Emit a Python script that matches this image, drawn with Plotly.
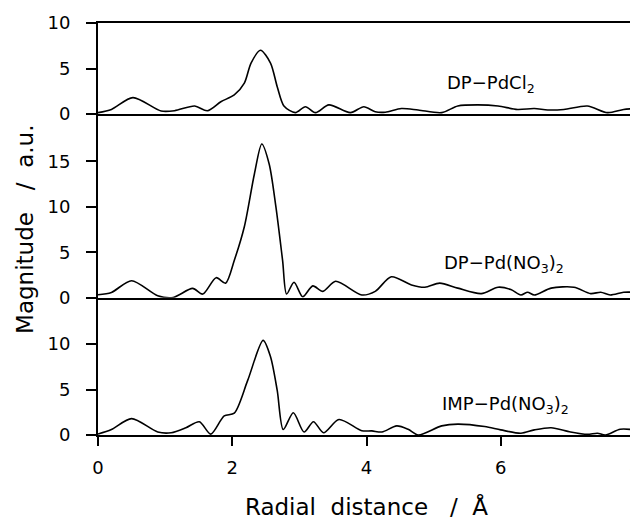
import plotly.graph_objects as go
from plotly.subplots import make_subplots

# radial distance (A) / FT magnitude
r_cl = [0, 0.2, 0.52, 0.94, 1.14, 1.44, 1.63, 1.83, 2.03, 2.18, 2.28, 2.42, 2.57, 2.67, 2.77,
        2.94, 3.09, 3.24, 3.44, 3.76, 3.96, 4.13, 4.28, 4.52, 4.77, 5.12, 5.36, 5.66, 5.96,
        6.25, 6.5, 6.7, 6.94, 7.29, 7.59, 7.83, 8.0]
mag_cl = [0.15, 0.5, 1.8, 0.33, 0.36, 0.88, 0.36, 1.35, 2.1, 3.4, 5.6, 7.0, 5.6, 3.0, 0.88,
          0.15, 0.8, 0.15, 1.0, 0.15, 0.8, 0.25, 0.2, 0.6, 0.44, 0.15, 0.88, 1.0, 0.88,
          0.5, 0.6, 0.44, 0.5, 0.88, 0.15, 0.5, 0.6]

r_dp = [0, 0.2, 0.5, 0.89, 1.12, 1.41, 1.56, 1.76, 1.9, 2.03, 2.18, 2.33, 2.44, 2.55, 2.65,
        2.75, 2.81, 2.92, 3.05, 3.2, 3.35, 3.54, 3.93, 4.13, 4.37, 4.67, 4.87, 5.09, 5.36,
        5.71, 5.96, 6.15, 6.3, 6.4, 6.5, 6.75, 7.09, 7.34, 7.49, 7.63, 7.83, 8.0]
mag_dp = [0.33, 0.58, 1.87, 0.22, 0.03, 1.02, 0.4, 2.2, 1.6, 4.1, 7.8, 13.6, 16.9, 14.7, 10.0,
          4.1, 0.4, 1.7, 0.1, 1.3, 0.7, 1.8, 0.3, 0.7, 2.3, 1.4, 1.15, 1.6, 1.05,
          0.45, 1.15, 0.9, 0.3, 0.6, 0.3, 1.05, 1.15, 0.45, 0.6, 0.3, 0.6, 0.6]

r_imp = [0, 0.2, 0.5, 0.89, 1.09, 1.31, 1.51, 1.68, 1.88, 2.03, 2.23, 2.46, 2.57, 2.67, 2.76,
         2.91, 3.07, 3.21, 3.36, 3.59, 3.93, 4.08, 4.23, 4.45, 4.62, 4.77, 5.12, 5.36, 5.76,
         6.0, 6.3, 6.5, 6.75, 7.04, 7.29, 7.44, 7.56, 7.78, 8.0]
mag_imp = [0.1, 0.6, 1.8, 0.33, 0.25, 0.8, 1.46, 0.1, 2.1, 2.4, 6.0, 10.4, 8.6, 4.9, 0.6,
           2.45, 0.33, 1.46, 0.25, 1.7, 0.47, 0.45, 0.33, 1.0, 0.63, 0.0, 1.0, 1.2, 0.93,
           0.56, 0.19, 0.56, 0.8, 0.33, 0.07, 0.19, 0.0, 0.63, 0.56]

labels = ['DP\u2212PdCl<sub>2</sub>', 'DP\u2212Pd(NO<sub>3</sub>)<sub>2</sub>',
          'IMP\u2212Pd(NO<sub>3</sub>)<sub>2</sub>']
x_ticks = [0, 2, 4, 6, 8]

FONT = 'DejaVu Sans'

fig = make_subplots(rows=3, cols=1, shared_xaxes=True, vertical_spacing=0,
                    row_heights=[91, 183.7, 137.3])

series = [(r_cl, mag_cl), (r_dp, mag_dp), (r_imp, mag_imp)]
for i, (xs, ys) in enumerate(series):
    fig.add_trace(go.Scatter(x=xs, y=ys, mode='lines',
                             line=dict(color='black', width=1.6, shape='spline', smoothing=0.8),
                             showlegend=False), row=i + 1, col=1)

yranges = [[0, 10], [0, 20.19], [0, 15.09]]
yticks = [[0, 5, 10], [0, 5, 10, 15], [0, 5, 10]]
for i in range(3):
    fig.update_yaxes(range=yranges[i], tickvals=yticks[i], ticks='outside', ticklen=10,
                     tickwidth=1.5, tickcolor='black', showline=True, linewidth=1.8,
                     linecolor='black', mirror=True, showgrid=False, zeroline=False,
                     ticklabelstandoff=12, automargin=False,
                     tickfont=dict(family=FONT, size=18, color='black'), row=i + 1, col=1)
    # only the top panel needs a mirrored x line (the frame top); others share the baseline above
    fig.update_xaxes(range=[0, 8], tickvals=x_ticks, showline=True, linewidth=1.8,
                     linecolor='black', mirror=(i == 0), showgrid=False, zeroline=False,
                     automargin=False, row=i + 1, col=1)

fig.update_xaxes(ticks='outside', ticklen=9, tickwidth=1.5, tickcolor='black',
                 showticklabels=True, ticklabelstandoff=6, ticklabeloverflow='allow',
                 tickfont=dict(family=FONT, size=18, color='black'),
                 title=dict(text='Radial\u00a0 distance\u00a0\u00a0 /\u00a0 \u00c5',
                            font=dict(family=FONT, size=23, color='black'), standoff=24),
                 row=3, col=1)

# annotation positions (x in data units, y in each panel's units)
lab_x = [5.17, 5.12, 5.09]
lab_y = [1.8, 2.2, 1.8]
axes = [('x', 'y'), ('x2', 'y2'), ('x3', 'y3')]
for i in range(3):
    fig.add_annotation(text=labels[i], x=lab_x[i], y=lab_y[i], xref=axes[i][0], yref=axes[i][1],
                       xanchor='left', yanchor='bottom', showarrow=False,
                       font=dict(family=FONT, size=18, color='black'))

fig.add_annotation(text='Magnitude\u00a0\u00a0 /\u00a0 a.u.', textangle=-90,
                   x=-0.136, y=0.5, xref='paper', yref='paper',
                   xanchor='center', yanchor='middle', showarrow=False,
                   font=dict(family=FONT, size=23, color='black'))

# page body adds an 8 px offset, so the figure is shrunk to keep the plot area in place
fig.update_layout(width=630, height=512, margin=dict(l=90, r=3, t=15, b=85),
                  paper_bgcolor='white', plot_bgcolor='white')

fig.write_html("out.html")
